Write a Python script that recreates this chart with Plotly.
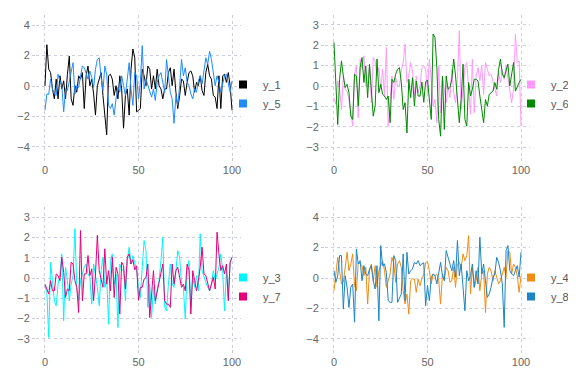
import plotly.graph_objects as go

x = list(range(101))

y_1 = [0.0, 2.71, 1.1, 0.88, -0.19, -0.84, 0.45, -0.84, 0.67, -0.19,
       0.34, -0.84, 0.77, 1.96, -0.84, -1.27, 0.02, -0.41, 0.67, 0.45,
       0.88, -1.48, 0.67, 1.31, 0.02, 0.45, -0.52, -1.91, 0.02, 0.45,
       0.88, -0.62, -1.7, -3.2, 0.67, 0.77, 0.45, -0.62, 0.02, -0.84,
       0.67, -0.19, -2.77, -0.62, -0.19, -1.91, 1.1, 2.43, 1.85, -1.7,
       -1.59, -1.48, 1.1, 0.67, 0.02, 1.31, 1.1, -0.19, 0.67, -0.19,
       1.1, 0.02, -0.19, -0.84, -0.19, -0.19, 0.88, 1.2, 0.02, 1.1,
       -0.41, -1.48, -0.62, 0.45, 0.34, -0.62, 0.24, 0.88, 0.99, 0.67,
       -0.41, 0.24, 0.02, 0.67, -0.3, -0.62, 0.88, 1.42, 0.67, 0.45,
       -0.62, -0.73, -1.48, 0.67, -1.48, 0.67, 0.77, 0.24, 0.88, 0.02,
       -1.59]
y_5 = [-1.59, -0.52, -0.55, 0.45, -0.19, -0.52, -0.62, 0.77, 0.34, 0.02,
       -1.7, -0.19, -0.3, 0.34, 0.99, 1.53, -0.52, 0.02, -0.09, 0.67,
       1.31, 1.2, 0.88, 0.45, 0.99, 0.56, -0.09, 1.1, 1.74, 1.85,
       0.56, -0.3, 1.31, 0.77, -1.27, -1.48, -1.16, -1.91, -0.84, -0.09,
       -0.41, 0.67, 0.02, -0.62, 0.45, 1.53, -0.19, -1.27, 0.88, 0.67,
       -0.84, 0.24, 2.65, -0.19, 0.45, 0.02, -0.3, -0.73, -0.19, -0.95,
       0.24, 0.67, 0.88, 0.13, -0.41, 1.74, 0.45, -0.41, -0.84, -2.45,
       -0.62, -1.27, 0.02, 1.74, 0.67, 1.2, 0.24, 0.02, -0.52, -0.84,
       -0.19, -0.41, 0.34, 0.67, 0.13, 1.2, 1.85, 1.42, 2.28, 1.74,
       0.67, 0.02, 0.67, 0.24, -0.41, 0.13, 0.67, 0.77, 0.13, -0.41,
       0.34]

y_2 = [-0.57, -0.9, 0.25, -0.16, -1.15, 0.49, -0.16, -0.25, -0.66, -1.48,
       -1.97, 0.58, 0.99, -1.56, 1.32, 0.82, 1.48, 0.0, 0.0, 0.99,
       -0.82, 1.4, 1.23, 0.49, 0.9, -0.16, 0.82, -0.49, 1.89, -1.97,
       -0.82, 0.49, -0.66, 0.41, 0.0, 0.0, 0.74, 1.15, 2.05, 0.17,
       0.49, 1.15, 0.74, -0.49, 0.49, -0.33, 0.0, 0.9, 0.99, 0.82,
       -0.33, 1.32, 0.33, -0.99, -0.66, -1.8, 0.99, -1.31, 0.49, -0.16,
       -0.82, 0.0, -0.57, 0.82, -0.33, -0.82, 0.33, 2.71, -1.15, -0.16,
       0.9, 1.15, 0.0, -1.39, 1.32, -1.31, 0.49, 0.9, 0.25, 0.99,
       -0.41, 1.15, 0.82, 0.49, 0.58, 0.25, -0.16, -0.49, 0.66, 0.17,
       0.82, 0.33, 0.99, 0.41, -0.25, -0.82, -0.16, 2.55, 1.15, 1.23,
       -1.97]
y_6 = [2.14, 0.17, -1.89, 0.33, 1.23, 0.49, -0.08, 0.08, -0.33, -1.48,
       -1.64, 0.58, 0.49, -0.99, 0.9, 1.4, 0.17, 0.99, -0.57, 1.07,
       -0.33, -1.48, -0.99, 1.32, -0.33, 0.08, -0.41, -0.49, -0.66, -0.49,
       -1.8, 0.33, 0.17, 0.58, 0.82, 0.9, 0.17, -1.15, -0.82, -2.3,
       0.33, -0.57, 0.41, -0.99, 0.25, -0.49, -0.5, 0.2, -0.8, 0.2,
       0.3, -0.9, -1.64, 2.55, 2.38, 0.9, -1.64, -2.46, 0.49, -2.13,
       0.49, -0.16, -0.08, 0.33, 1.32, 0.49, -0.82, -1.8, -0.66, 1.07,
       -1.64, -1.97, 0.17, -0.49, -0.16, 0.33, 0.33, 0.25, -0.49, -1.15,
       -1.8, -0.66, -0.99, -0.41, -0.33, -0.25, 0.17, -0.16, 0.82, 1.32,
       0.58, 0.41, 0.74, 1.07, 0.0, 0.66, 1.15, -0.25, 0.0, 0.17,
       0.33]

y_3 = [-0.38, -0.71, -2.94, 0.78, -0.13, -1.12, -1.37, -0.3, 0.2, 1.19,
       -2.11, 0.53, -0.13, -1.12, -0.3, 0.12, 2.43, -0.46, -1.12, -0.13,
       0.2, 0.53, 0.69, 0.2, 0.03, -1.29, 0.69, 0.2, -0.46, -1.37,
       0.36, 1.02, -0.46, 0.03, -2.28, 0.86, 1.19, -0.3, 0.2, -2.44,
       0.69, 0.36, 0.45, -1.12, 0.86, 1.52, 0.69, 1.1, 0.8, 0.4,
       -0.5, -0.96, 0.53, 1.85, 1.35, -1.45, -0.3, -1.95, -0.46, -1.29,
       -0.54, -0.13, 0.86, 2.01, -1.45, -1.62, -0.3, 0.69, -0.3, -0.46,
       0.36, 1.35, 1.02, -0.3, -0.46, -2.03, 0.36, 0.86, -1.45, 0.03,
       -0.46, 0.12, -0.63, 2.18, 0.36, 0.03, -0.21, -0.46, -0.63, -0.3,
       0.36, -0.13, 0.2, 0.53, 1.19, 0.36, -1.62, 0.36, -0.96, 0.78,
       1.02]
y_7 = [-0.3, -0.54, -0.79, -0.13, -0.63, -0.63, 0.2, 0.12, -0.13, 1.02,
       0.28, -0.96, -0.54, -0.63, 0.78, 0.69, -0.13, -0.46, -1.7, 2.34,
       -1.12, 0.2, 0.2, 1.11, 0.12, 0.45, -1.12, 0.2, 2.1, 0.36,
       -0.13, -0.46, 1.44, -0.3, 0.36, -0.63, 1.02, -0.96, 0.53, 0.2,
       -1.78, 0.78, 0.61, -0.54, 1.02, 1.19, 0.69, 0.9, 0.4, 0.6,
       -1.1, -0.46, -0.46, -0.05, 0.03, 0.69, -1.95, -0.79, 0.36, -1.12,
       -0.63, -0.3, 0.36, 0.69, -1.12, -1.29, -1.29, -1.45, 0.69, -0.3,
       0.36, 0.53, 0.03, -0.46, -0.3, -0.63, 0.69, 0.36, -1.78, 0.36,
       -0.13, -0.63, -0.13, 0.53, 1.52, 0.2, 0.12, -0.3, -0.63, -0.3,
       0.03, -0.54, 2.26, 1.19, 0.36, 0.61, 0.2, 0.69, -1.12, 0.78,
       1.02]

y_4 = [-0.84, 0.15, 1.36, 0.48, -0.39, -0.28, 0.92, 1.69, 0.48, 0.92,
       1.58, -0.51, -0.84, 1.03, 0.92, 0.81, 0.15, 0.7, -1.71, 0.48,
       0.92, -0.18, 0.81, -0.61, 0.48, 0.81, 1.14, 0.48, -0.61, -0.18,
       0.26, 1.36, 0.92, -0.28, 0.92, 1.14, 0.7, -0.84, -1.71, -1.05,
       -2.37, -0.18, -0.07, -0.07, -0.94, -0.07, -0.51, 0.0, 0.2, 1.0,
       1.1, 0.48, -0.39, 0.26, 0.15, 0.26, -0.18, -1.71, 0.26, -0.07,
       0.7, 0.48, -0.28, -0.18, 0.7, -0.61, 0.92, 1.03, 0.7, 1.58,
       1.14, 1.47, 2.78, -1.05, 0.7, -0.61, -0.18, 0.7, -0.84, 0.26,
       0.48, -2.26, 0.26, 0.7, 0.48, -0.18, 0.48, 0.05, -0.39, -0.18,
       0.37, 0.7, 0.05, 1.8, 1.69, 0.26, 0.92, 0.7, 0.15, -0.94,
       0.15]
y_8 = [0.48, -0.28, 0.15, 1.47, 1.47, -2.04, 0.15, -0.61, -1.93, -0.61,
       -0.39, -2.9, 1.91, 0.92, 1.14, -0.18, 0.81, 0.26, 0.15, 0.59,
       0.81, -0.18, -0.72, 0.81, -2.81, 2.13, 0.81, 0.92, 0.37, -1.49,
       -1.6, -1.6, 1.47, 1.14, -1.6, -1.27, -1.05, 1.58, -1.49, 1.69,
       0.26, 0.48, 0.59, 1.03, 0.92, 1.14, 0.81, 0.92, 1.0, -1.82,
       -0.5, -1.49, 0.05, 0.26, 0.15, -0.39, 0.26, 1.03, 0.15, -0.18,
       1.8, 1.36, 0.92, 0.48, 1.14, 0.05, 2.46, 0.15, 0.92, -0.72,
       -2.15, 0.48, -0.18, 0.15, 0.92, -0.61, 0.48, -0.39, 2.68, 0.26,
       0.92, -0.18, -1.27, -1.05, -0.61, 0.05, 0.26, 1.36, 1.03, 0.48,
       -0.39, -3.24, 1.8, 2.13, 0.48, 0.26, 0.15, 0.48, 0.81, 0.05,
       1.69]

x_ticks = [0, 50, 100]
ticks_4 = [-4, -2, 0, 2, 4]
ticks_3 = [-3, -2, -1, 0, 1, 2, 3]

panels = [
    # (axis suffix, legend id, [(name, data, color), ...], yticks, yrange)
    ("", "legend", [("y_1", y_1, "#000000"), ("y_5", y_5, "#1E8BFF")], ticks_4, [-4.66, 4.66]),
    ("2", "legend2", [("y_2", y_2, "#FF99FF"), ("y_6", y_6, "#008A00")], ticks_3, [-3.48, 3.48]),
    ("3", "legend3", [("y_3", y_3, "#00F5FF"), ("y_7", y_7, "#E6007A")], ticks_3, [-3.5, 3.5]),
    ("4", "legend4", [("y_4", y_4, "#EE8C14"), ("y_8", y_8, "#1B85C6")], ticks_4, [-4.66, 4.66]),
]

# The page places the figure 8px in from the top-left corner, so the figure
# is 8px smaller and all positions are given relative to that origin.
W, H = 568, 376
OFF = 8
col_px = [(36, 241), (325, 530)]
row_px = [(15, 157), (207, 349)]
col_dom = [[(a - OFF) / W, (b - OFF) / W] for a, b in col_px]
row_dom = [[1 - (b - OFF) / H, 1 - (a - OFF) / H] for a, b in row_px]
leg_left_px = [223, 511]
leg_top_px = [70, 263]

fig = go.Figure()
font_family = "Liberation Sans, Arial, sans-serif"
grid_col = "rgba(190,190,215,0.75)"
layout = dict(
    width=W, height=H,
    margin=dict(l=0, r=0, t=0, b=0, autoexpand=False),
    paper_bgcolor="white", plot_bgcolor="white",
    font=dict(family=font_family, size=11, color="#555555"),
)

for i, (suf, leg, series, yt, yr) in enumerate(panels):
    r, c = divmod(i, 2)
    xa = "x" + suf
    ya = "y" + suf
    for name, data, color in series:
        fig.add_trace(go.Scatter(
            x=x, y=data, mode="lines", name=name,
            line=dict(color=color, width=1),
            xaxis=xa, yaxis=ya, showlegend=False, legend=leg,
        ))
    for name, data, color in series:
        fig.add_trace(go.Scatter(
            x=[None], y=[None], mode="markers", name=name,
            marker=dict(symbol="square", size=8, color=color),
            xaxis=xa, yaxis=ya, showlegend=True, legend=leg,
        ))
    axis_common = dict(
        showgrid=True, gridcolor=grid_col, griddash="dot", gridwidth=1,
        zeroline=False, showline=False, automargin=False,
        ticks="outside", ticklen=3, tickcolor="#cccccc",
        tickfont=dict(size=11, color="#666666", family=font_family),
    )
    layout["xaxis" + suf] = dict(
        domain=col_dom[c], anchor=ya, range=[-4.8, 104.8],
        tickvals=x_ticks, **axis_common,
    )
    layout["yaxis" + suf] = dict(
        domain=row_dom[r], anchor=xa, range=yr,
        tickvals=yt, **axis_common,
    )
    layout[leg] = dict(
        x=(leg_left_px[c] - OFF) / W, y=1 - (leg_top_px[r] - OFF) / H,
        xanchor="left", yanchor="top",
        bgcolor="rgba(0,0,0,0)", borderwidth=0,
        font=dict(size=11, color="#555555", family=font_family),
        itemwidth=30, tracegroupgap=0,
    )

fig.update_layout(**layout)
fig.write_html("out.html")
